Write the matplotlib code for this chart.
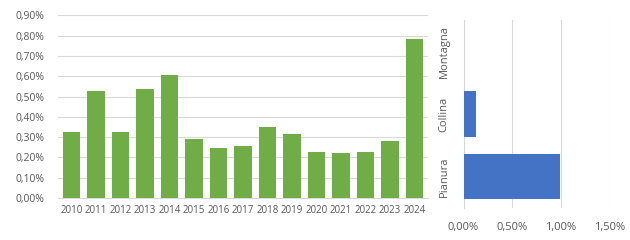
import matplotlib
matplotlib.use("Agg")
import matplotlib.pyplot as plt
from matplotlib.ticker import FuncFormatter

years = ["2010", "2011", "2012", "2013", "2014", "2015", "2016", "2017",
         "2018", "2019", "2020", "2021", "2022", "2023", "2024"]
year_values = [0.325, 0.529, 0.325, 0.537, 0.606, 0.291, 0.246, 0.256,
               0.350, 0.315, 0.227, 0.222, 0.227, 0.281, 0.783]  # percent

zones = ["Pianura", "Collina", "Montagna"]
zone_values = [0.985, 0.126, 0.0]  # percent

plt.rcParams['font.family'] = ['Open Sans', 'DejaVu Sans']
text_color = "#595959"
grid_color = "#D9D9D9"

fig = plt.figure(figsize=(6.3, 2.4), dpi=100)

def pct(v, _):
    return f"{v:.2f}%".replace(".", ",")

# Left chart
ax1 = fig.add_axes([58/630, 1-198/240, (428-58)/630, (198-15.3)/240])
x = list(range(len(years)))
ax1.bar(x, year_values, width=0.73, color="#70AD47", zorder=3)
ax1.set_ylim(0, 0.9)
ax1.set_xlim(-0.55, len(years)-0.45)
ax1.set_yticks([i/10 for i in range(10)])
ax1.yaxis.set_major_formatter(FuncFormatter(pct))
ax1.set_xticks(x)
ax1.set_xticklabels(years)
ax1.grid(axis="y", color=grid_color, linewidth=0.8, zorder=0)
for s in ["top", "right", "left"]:
    ax1.spines[s].set_visible(False)
ax1.spines["bottom"].set_color(grid_color)
ax1.tick_params(axis="x", length=0, labelsize=7, colors=text_color, pad=5)
ax1.tick_params(axis="y", length=0, labelsize=7.5, colors=text_color, pad=10)

# Right chart
ax2 = fig.add_axes([463.5/630, 1-208/240, (609.7-463.5)/630, 188/240])
y = list(range(len(zones)))
ax2.barh(y, zone_values, height=0.72, color="#4472C4", zorder=3)
ax2.set_xlim(0, 1.5)
ax2.set_ylim(-0.5, len(zones)-0.5)
ax2.set_xticks([0, 0.5, 1.0, 1.5])
ax2.xaxis.set_major_formatter(FuncFormatter(pct))
ax2.set_yticks(y)
ax2.set_yticklabels(zones, rotation=90, va="center")
ax2.grid(axis="x", color=grid_color, linewidth=0.8, zorder=0)
for s in ["top", "right", "bottom"]:
    ax2.spines[s].set_visible(False)
ax2.spines["left"].set_color(grid_color)
ax2.tick_params(axis="y", length=0, labelsize=8, colors=text_color, pad=10)
ax2.tick_params(axis="x", length=0, labelsize=8, colors=text_color, pad=10)

fig.savefig("out.png", dpi=100)
